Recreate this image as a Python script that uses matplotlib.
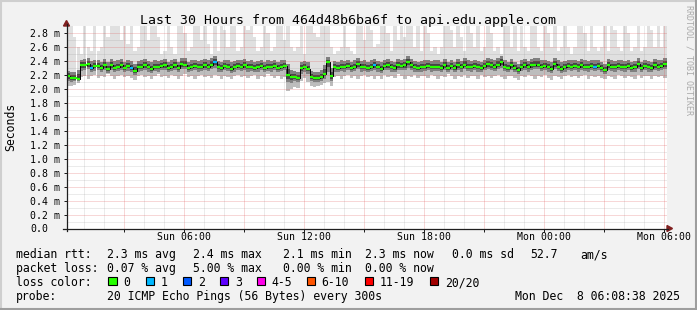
import numpy as np
import matplotlib
matplotlib.use("Agg")
import matplotlib.pyplot as plt
from matplotlib.patches import Rectangle, Polygon
from matplotlib.lines import Line2D

W, H = 697, 310
MONO = "DejaVu Sans Mono"
plt.rcParams["font.family"] = [MONO, "DejaVu Sans"]

title = "Last 30 Hours from 464d48b6ba6f to api.edu.apple.com"
start_hour = 8 / 60 + 38 / 3600     # Sun 00:08:38, hours since Sun 00:00
step_hours = 1 / 6                  # one smoke column per 10 minutes
span_hours = 30

x_ticks = [6, 12, 18, 24, 30]
x_tick_labels = ["Sun 06:00", "Sun 12:00", "Sun 18:00", "Mon 00:00", "Mon 06:00"]
y_ticks = [0.0, 0.2, 0.4, 0.6, 0.8, 1.0, 1.2, 1.4, 1.6, 1.8, 2.0, 2.2, 2.4, 2.6, 2.8]
y_tick_labels = ["0.0", "0.2 m", "0.4 m", "0.6 m", "0.8 m", "1.0 m", "1.2 m", "1.4 m",
                 "1.6 m", "1.8 m", "2.0 m", "2.2 m", "2.4 m", "2.6 m", "2.8 m"]

# median rtt (ms)
median_ms = [
    2.19, 2.16, 2.16, 2.15, 2.34, 2.34, 2.36, 2.30, 2.33, 2.33, 2.30, 2.34, 2.29, 2.34, 2.30, 2.32, 2.34, 2.30,
    2.33, 2.30, 2.26, 2.31, 2.32, 2.34, 2.31, 2.29, 2.32, 2.31, 2.33, 2.34, 2.30, 2.32, 2.34, 2.30, 2.36, 2.35,
    2.30, 2.32, 2.33, 2.31, 2.32, 2.34, 2.32, 2.35, 2.38, 2.31, 2.30, 2.33, 2.32, 2.29, 2.31, 2.33, 2.32, 2.34,
    2.31, 2.32, 2.30, 2.31, 2.33, 2.30, 2.32, 2.31, 2.33, 2.30, 2.32, 2.33, 2.20, 2.17, 2.17, 2.16, 2.30, 2.31,
    2.29, 2.17, 2.16, 2.16, 2.17, 2.22, 2.38, 2.18, 2.31, 2.30, 2.32, 2.31, 2.33, 2.30, 2.32, 2.36, 2.31, 2.32,
    2.30, 2.32, 2.34, 2.31, 2.29, 2.33, 2.34, 2.31, 2.30, 2.34, 2.33, 2.34, 2.38, 2.34, 2.31, 2.30, 2.31, 2.32,
    2.33, 2.31, 2.32, 2.32, 2.30, 2.34, 2.30, 2.33, 2.30, 2.34, 2.31, 2.35, 2.32, 2.31, 2.33, 2.31, 2.30, 2.33,
    2.36, 2.34, 2.32, 2.35, 2.38, 2.32, 2.30, 2.34, 2.30, 2.27, 2.32, 2.34, 2.31, 2.34, 2.35, 2.35, 2.32, 2.33,
    2.31, 2.29, 2.36, 2.32, 2.29, 2.31, 2.33, 2.32, 2.33, 2.31, 2.34, 2.32, 2.31, 2.33, 2.32, 2.33, 2.30, 2.27,
    2.34, 2.32, 2.31, 2.33, 2.32, 2.31, 2.33, 2.30, 2.31, 2.36, 2.30, 2.33, 2.31, 2.30, 2.34, 2.32, 2.33, 2.36,
]
# slowest ping of each column
max_ms = [
    2.9, 2.9, 2.75, 2.6, 2.5, 2.9, 2.6, 2.55, 2.9, 2.55, 2.6, 2.9, 2.75, 2.9, 2.9, 2.9, 2.7, 2.9,
    2.65, 2.9, 2.55, 2.6, 2.9, 2.9, 2.7, 2.9, 2.9, 2.75, 2.5, 2.55, 2.9, 2.6, 2.5, 2.9, 2.9, 2.8,
    2.55, 2.6, 2.9, 2.9, 2.7, 2.9, 2.65, 2.5, 2.9, 2.55, 2.9, 2.85, 2.6, 2.9, 2.9, 2.55, 2.6, 2.9,
    2.85, 2.9, 2.75, 2.55, 2.6, 2.9, 2.8, 2.55, 2.6, 2.9, 2.9, 2.7, 2.9, 2.6, 2.55, 2.6, 2.9, 2.5,
    2.9, 2.9, 2.8, 2.75, 2.9, 2.9, 2.9, 2.6, 2.5, 2.55, 2.6, 2.9, 2.6, 2.55, 2.5, 2.9, 2.9, 2.7,
    2.9, 2.85, 2.6, 2.65, 2.9, 2.9, 2.8, 2.55, 2.9, 2.7, 2.9, 2.75, 2.9, 2.9, 2.6, 2.9, 2.55, 2.9,
    2.8, 2.55, 2.6, 2.5, 2.6, 2.9, 2.9, 2.85, 2.6, 2.9, 2.75, 2.55, 2.9, 2.8, 2.6, 2.9, 2.55, 2.6,
    2.9, 2.8, 2.55, 2.6, 2.5, 2.9, 2.9, 2.6, 2.9, 2.55, 2.9, 2.6, 2.55, 2.9, 2.9, 2.6, 2.55, 2.9,
    2.8, 2.6, 2.9, 2.55, 2.6, 2.9, 2.6, 2.5, 2.6, 2.9, 2.9, 2.8, 2.55, 2.9, 2.6, 2.55, 2.6, 2.9,
    2.55, 2.9, 2.85, 2.6, 2.55, 2.9, 2.8, 2.55, 2.6, 2.9, 2.55, 2.6, 2.9, 2.85, 2.6, 2.9, 2.6, 2.9,
]
# fastest ping of each column
min_ms = [
    2.05, 2.04, 2.06, 2.08, 2.17, 2.19, 2.15, 2.18, 2.20, 2.16, 2.19, 2.17, 2.21, 2.18, 2.14, 2.19, 2.20, 2.17,
    2.19, 2.16, 2.13, 2.18, 2.20, 2.17, 2.19, 2.15, 2.18, 2.21, 2.17, 2.19, 2.16, 2.20, 2.18, 2.15, 2.19, 2.21,
    2.17, 2.19, 2.14, 2.18, 2.20, 2.17, 2.19, 2.16, 2.20, 2.18, 2.15, 2.19, 2.17, 2.14, 2.18, 2.20, 2.17, 2.19,
    2.16, 2.18, 2.20, 2.15, 2.19, 2.17, 2.21, 2.18, 2.16, 2.19, 2.14, 2.17, 1.97, 2.00, 2.03, 2.02, 2.12, 2.16,
    2.10, 2.05, 2.03, 2.04, 2.06, 2.08, 2.10, 2.05, 2.17, 2.19, 2.15, 2.18, 2.20, 2.16, 2.19, 2.14, 2.18, 2.20,
    2.17, 2.19, 2.15, 2.18, 2.14, 2.20, 2.17, 2.19, 2.16, 2.21, 2.18, 2.15, 2.19, 2.17, 2.20, 2.16, 2.18, 2.19,
    2.16, 2.20, 2.18, 2.15, 2.19, 2.17, 2.21, 2.18, 2.14, 2.19, 2.17, 2.20, 2.16, 2.18, 2.19, 2.15, 2.20, 2.17,
    2.19, 2.16, 2.18, 2.20, 2.17, 2.14, 2.19, 2.18, 2.16, 2.13, 2.19, 2.17, 2.20, 2.18, 2.15, 2.19, 2.17, 2.20,
    2.16, 2.13, 2.19, 2.17, 2.14, 2.18, 2.20, 2.17, 2.19, 2.16, 2.18, 2.20, 2.15, 2.19, 2.17, 2.18, 2.16, 2.14,
    2.19, 2.17, 2.15, 2.20, 2.18, 2.16, 2.19, 2.17, 2.15, 2.20, 2.16, 2.18, 2.19, 2.15, 2.18, 2.17, 2.19, 2.16,
]
# lower / upper edge of the dense part of the smoke
core_lo_ms = [
    2.11, 2.10, 2.11, 2.12, 2.26, 2.27, 2.28, 2.24, 2.26, 2.27, 2.24, 2.27, 2.23, 2.27, 2.24, 2.26, 2.27, 2.24,
    2.26, 2.24, 2.20, 2.25, 2.26, 2.27, 2.25, 2.23, 2.26, 2.25, 2.27, 2.27, 2.24, 2.26, 2.27, 2.24, 2.28, 2.28,
    2.24, 2.26, 2.27, 2.25, 2.26, 2.27, 2.26, 2.28, 2.30, 2.25, 2.24, 2.27, 2.26, 2.23, 2.25, 2.27, 2.26, 2.27,
    2.25, 2.26, 2.24, 2.25, 2.27, 2.24, 2.26, 2.25, 2.27, 2.24, 2.26, 2.27, 2.10, 2.09, 2.11, 2.10, 2.22, 2.25,
    2.22, 2.11, 2.10, 2.10, 2.11, 2.14, 2.24, 2.12, 2.25, 2.24, 2.26, 2.25, 2.27, 2.24, 2.26, 2.28, 2.25, 2.26,
    2.24, 2.26, 2.27, 2.25, 2.23, 2.27, 2.27, 2.25, 2.24, 2.27, 2.27, 2.27, 2.30, 2.27, 2.25, 2.24, 2.25, 2.26,
    2.27, 2.25, 2.26, 2.26, 2.24, 2.27, 2.24, 2.27, 2.24, 2.27, 2.25, 2.28, 2.26, 2.25, 2.27, 2.25, 2.24, 2.27,
    2.28, 2.27, 2.26, 2.28, 2.30, 2.26, 2.24, 2.27, 2.24, 2.21, 2.26, 2.27, 2.25, 2.27, 2.28, 2.28, 2.26, 2.27,
    2.25, 2.23, 2.28, 2.26, 2.23, 2.25, 2.27, 2.26, 2.27, 2.25, 2.27, 2.26, 2.25, 2.27, 2.26, 2.27, 2.24, 2.21,
    2.27, 2.26, 2.25, 2.27, 2.26, 2.25, 2.27, 2.24, 2.25, 2.28, 2.24, 2.27, 2.25, 2.24, 2.27, 2.26, 2.27, 2.28,
]
core_hi_ms = [
    2.26, 2.24, 2.25, 2.27, 2.42, 2.43, 2.45, 2.40, 2.42, 2.41, 2.39, 2.43, 2.38, 2.43, 2.40, 2.41, 2.43, 2.39,
    2.42, 2.40, 2.36, 2.40, 2.41, 2.43, 2.40, 2.38, 2.41, 2.40, 2.42, 2.43, 2.39, 2.41, 2.43, 2.39, 2.45, 2.44,
    2.39, 2.41, 2.42, 2.40, 2.41, 2.43, 2.41, 2.44, 2.47, 2.40, 2.39, 2.42, 2.41, 2.38, 2.40, 2.42, 2.41, 2.43,
    2.40, 2.41, 2.39, 2.40, 2.42, 2.39, 2.41, 2.40, 2.42, 2.39, 2.41, 2.42, 2.36, 2.27, 2.26, 2.25, 2.39, 2.40,
    2.38, 2.26, 2.25, 2.25, 2.27, 2.34, 2.46, 2.30, 2.40, 2.39, 2.41, 2.40, 2.42, 2.39, 2.41, 2.45, 2.40, 2.41,
    2.39, 2.41, 2.43, 2.40, 2.38, 2.42, 2.43, 2.40, 2.39, 2.43, 2.42, 2.43, 2.47, 2.43, 2.40, 2.39, 2.40, 2.41,
    2.42, 2.40, 2.41, 2.41, 2.39, 2.43, 2.39, 2.42, 2.39, 2.43, 2.40, 2.44, 2.41, 2.40, 2.42, 2.40, 2.39, 2.42,
    2.45, 2.43, 2.41, 2.44, 2.47, 2.41, 2.39, 2.43, 2.39, 2.36, 2.41, 2.43, 2.40, 2.43, 2.44, 2.44, 2.41, 2.42,
    2.40, 2.38, 2.45, 2.41, 2.38, 2.40, 2.42, 2.41, 2.42, 2.40, 2.43, 2.41, 2.40, 2.42, 2.41, 2.42, 2.39, 2.36,
    2.43, 2.41, 2.40, 2.42, 2.41, 2.40, 2.42, 2.39, 2.40, 2.45, 2.39, 2.42, 2.40, 2.39, 2.43, 2.41, 2.42, 2.45,
]
# columns where 1 of 20 pings was lost
loss1_steps = [7, 19, 44, 92, 158]

loss_labels = ["0", "1", "2", "3", "4-5", "6-10", "11-19", "20/20"]
loss_colors = ["#26ff00", "#00b8ff", "#0059ff", "#5e00ff", "#ff00ea", "#ff5500", "#ff0000", "#a10000"]

legend_rows = [
    [("median rtt:", 16), ("2.3 ms avg", 107.3), ("2.4 ms max", 193.3), ("2.1 ms min", 283.3),
     ("2.3 ms now", 365), ("0.0 ms sd", 451.7), ("52.7", 530), ("am/s", 580)],
    [("packet loss:", 16), ("0.07 % avg", 107.3), ("5.00 % max", 193.3), ("0.00 % min", 283.3),
     ("0.00 % now", 365)],
    [("loss color:", 16)],
    [("probe:", 16), ("20 ICMP Echo Pings (56 Bytes) every 300s", 107.3)],
]
stamp = "Mon Dec  8 06:08:38 2025"


def fx(px):
    return px / W


def fy(py):
    return 1 - py / H


# rrdtool-ish colours
BACK = "#f2f2f2"
AXIS = "#1f1f1f"
ARROW = "#801f1f"
MGRID = (0.87, 0.31, 0.31)
GRID = (0.56, 0.56, 0.56)

fig = plt.figure(figsize=(W / 100, H / 100), dpi=100, facecolor=BACK)

ax_l, ax_r, ax_b = 66.5, 666.5, 228.5
y_max = 2.9
px_per_ms = 69.75
ax_t = ax_b - y_max * px_per_ms
ax = fig.add_axes([fx(ax_l), fy(ax_b), (ax_r - ax_l) / W, (ax_b - ax_t) / H])
ax.set_facecolor("white")
ax.set_xlim(start_hour, start_hour + span_hours)
ax.set_ylim(0, y_max)
for s in ax.spines.values():
    s.set_visible(False)

n = len(median_ms)
t = start_hour + (np.arange(n) + 0.5) * step_hours
med = np.array(median_ms)
lo = np.array(core_lo_ms)
hi = np.array(core_hi_ms)
mn = np.array(min_ms)
mx = np.array(max_ms)

# smoke: outer pings light, towards the median darker
bar_kw = dict(width=step_hours, linewidth=0, antialiased=False)
ax.bar(t, mx - mn, bottom=mn, color="#e0e0e0", zorder=1, **bar_kw)
ax.bar(t, hi - mn, bottom=mn, color="#bdbdbd", zorder=1.1, **bar_kw)
ax.bar(t, hi - lo, bottom=lo, color="#808080", zorder=1.2, **bar_kw)
in_lo = (lo + med) / 2
in_hi = (hi + med) / 2
ax.bar(t, in_hi - in_lo, bottom=in_lo, color="#464646", zorder=1.3, **bar_kw)

# grid: grey every hour / 0.1 ms, red every 3 h / 0.2 ms
for h in range(1, 31):
    col, a = (MGRID, 0.45) if h % 3 == 0 else (GRID, 0.35)
    ax.axvline(h, color=col, alpha=a, lw=0.72, ls=(0, (1, 1)), zorder=2)
for k in range(1, 29):
    col, a = (MGRID, 0.45) if k % 2 == 0 else (GRID, 0.35)
    ax.axhline(k / 10, color=col, alpha=a, lw=0.72, ls=(0, (1, 1)), zorder=2)

# median, coloured by loss
ax.step(t, med, where="mid", color="black", lw=0.7, zorder=3)
seg_cols = [loss_colors[1] if i in loss1_steps else loss_colors[0] for i in range(n)]
ax.hlines(med, t - step_hours / 2, t + step_hours / 2, colors=seg_cols, lw=1.6, zorder=4)

# ticks
ax.set_xticks(x_ticks, x_tick_labels)
ax.set_xticks([3, 9, 15, 21, 27], minor=True)
ax.tick_params(axis="x", which="both", direction="out", length=2.2, width=0.72, color=AXIS,
               labelsize=7.1, pad=0.6)
ax.set_yticks(y_ticks, y_tick_labels)
ax.tick_params(axis="y", direction="out", length=2.2, width=0.72, color=AXIS,
               labelsize=7.1, pad=(ax_l - 30.5 - 3) * 0.72)
for lab in ax.get_yticklabels():
    lab.set_horizontalalignment("left")

# axis lines with arrows
fig.add_artist(Line2D([fx(66.5), fx(66.5)], [fy(231), fy(24)], color=AXIS, lw=0.9))
fig.add_artist(Line2D([fx(63), fx(668)], [fy(228.5), fy(228.5)], color=AXIS, lw=0.9))
fig.add_artist(Polygon([[fx(63.5), fy(26)], [fx(69.5), fy(26)], [fx(66.5), fy(20.5)]],
                       closed=True, color=ARROW, transform=fig.transFigure))
fig.add_artist(Polygon([[fx(667), fy(225.5)], [fx(667), fy(231.5)], [fx(672.5), fy(228.5)]],
                       closed=True, color=ARROW, transform=fig.transFigure))

# texts
fig.text(fx(348.5), fy(24), title, ha="center", va="baseline", fontsize=9.55)
fig.text(fx(11), fy(127), "Seconds", rotation=90, ha="center", va="center", fontsize=8.3)
fig.text(fx(688.5), fy(5), "RRDTOOL / TOBI OETIKER", rotation=270, ha="center", va="top",
         fontsize=6, color="#aaaaaa")

baselines = [258.3, 272.3, 286.3, 300.3]
for row, yb in zip(legend_rows, baselines):
    for txt, xp in row:
        fig.text(fx(xp), fy(yb), txt, ha="left", va="baseline", fontsize=8.3)
fig.text(fx(680), fy(300.3), stamp, ha="right", va="baseline", fontsize=8.3)

box_x = [108.3, 145.7, 182.7, 220, 256.7, 306.7, 365, 430]
for bx, col, lab in zip(box_x, loss_colors, loss_labels):
    fig.add_artist(Rectangle((fx(bx), fy(285)), 8.3 / W, 8.3 / H, transform=fig.transFigure,
                             facecolor=col, edgecolor="black", lw=0.8))
    fig.text(fx(bx + 15), fy(286.3), lab, ha="left", va="baseline", fontsize=8.3)

# 3d frame
fig.add_artist(Line2D([0, 1], [fy(1), fy(1)], color="#cfcfcf", lw=1.5))
fig.add_artist(Line2D([fx(1), fx(1)], [0, 1], color="#cfcfcf", lw=1.5))
fig.add_artist(Line2D([0, 1], [fy(309), fy(309)], color="#9e9e9e", lw=1.5))
fig.add_artist(Line2D([fx(696), fx(696)], [0, 1], color="#9e9e9e", lw=1.5))

fig.savefig("out.png", dpi=100, facecolor=BACK)
